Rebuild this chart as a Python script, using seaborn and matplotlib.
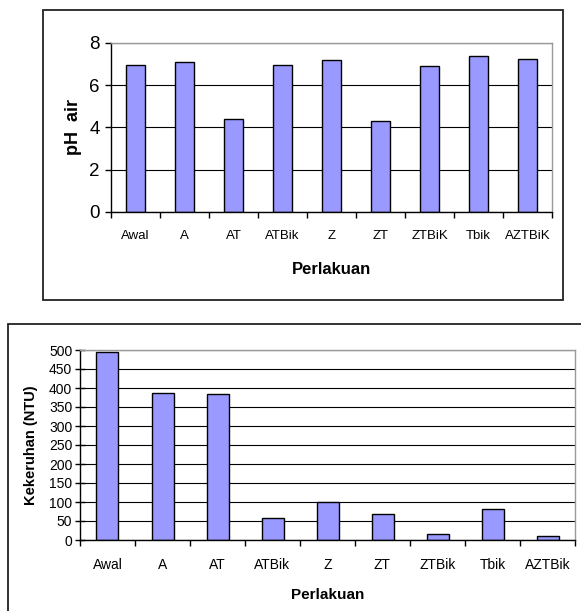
import numpy as np
import pandas as pd
import matplotlib
matplotlib.use("Agg")
import matplotlib.pyplot as plt
import seaborn as sns
from matplotlib.patches import Rectangle

# =========================
# DATA
# =========================
perlakuan_ph = ["Awal", "A", "AT", "ATBik", "Z", "ZT", "ZTBiK", "Tbik", "AZTBiK"]
ph_air = [6.94, 7.10, 4.41, 6.98, 7.20, 4.30, 6.93, 7.37, 7.23]

perlakuan_ntu = ["Awal", "A", "AT", "ATBik", "Z", "ZT", "ZTBik", "Tbik", "AZTBik"]
kekeruhan = [494, 386, 383, 58, 99, 68, 15, 81, 10]

# =========================
# STYLE
# =========================
sns.set_style("white")
plt.rcParams["font.family"] = ["Liberation Sans", "DejaVu Sans"]
plt.rcParams["text.color"] = "black"
plt.rcParams["axes.labelcolor"] = "black"
plt.rcParams["xtick.color"] = "black"
plt.rcParams["ytick.color"] = "black"

W, H = 581, 611
fig = plt.figure(figsize=(W / 100, H / 100), dpi=100)


def px_axes(left, top, right, bottom):
    # pixel box -> figure fraction
    return [left / W, 1 - bottom / H, (right - left) / W, (bottom - top) / H]


def style_axes(ax, cats, ymax, ystep, ytick_dir, ytick_len, ypad, xfs, yfs):
    ax.set_xlim(-0.5, len(cats) - 0.5)
    ax.set_ylim(0, ymax)
    ax.set_yticks(np.arange(0, ymax + 1e-9, ystep))
    ax.set_axisbelow(True)
    ax.yaxis.grid(True, color="black", lw=0.8)
    ax.xaxis.grid(False)
    for s in ["left", "bottom"]:
        ax.spines[s].set_color("black")
        ax.spines[s].set_linewidth(1.0)
    for s in ["top", "right"]:
        ax.spines[s].set_color("#9a9a9a")
        ax.spines[s].set_linewidth(1.0)
    ax.set_xticks(np.arange(-0.5, len(cats), 1), minor=True)
    ax.tick_params(axis="x", which="major", length=0, pad=13, labelsize=xfs, bottom=True)
    ax.tick_params(axis="x", which="minor", length=4, direction="out", width=1,
                   color="black", bottom=True)
    ax.tick_params(axis="y", which="major", length=ytick_len, direction=ytick_dir,
                   width=1, color="black", pad=ypad, labelsize=yfs, left=True)


# =========================
# CHART 1 - pH air
# =========================
fig.add_artist(Rectangle((43 / W, 1 - 300 / H), 520 / W, 290 / H, transform=fig.transFigure,
                         fill=False, edgecolor="#222222", lw=1.3))
ax1 = fig.add_axes(px_axes(111, 43, 552, 212))
df1 = pd.DataFrame({"Perlakuan": perlakuan_ph, "pH": ph_air})
sns.barplot(data=df1, x="Perlakuan", y="pH", ax=ax1, color="#9999FF",
            edgecolor="black", linewidth=1, width=0.4, saturation=1)
style_axes(ax1, perlakuan_ph, 8, 2, "out", 4, 4, 9.5, 13.5)
ax1.set_ylabel("pH  air", fontsize=13, fontweight="bold")
ax1.yaxis.set_label_coords(-0.086, 0.5)
ax1.yaxis.label.set_va("center")
ax1.set_xlabel("Perlakuan", fontsize=12, fontweight="bold")
ax1.xaxis.set_label_coords(0.5, (212 - 270) / 169)
ax1.xaxis.label.set_va("center")

# =========================
# CHART 2 - Kekeruhan
# =========================
fig.add_artist(Rectangle((8 / W, -0.05), 1.0, 0.05 + (H - 324) / H, transform=fig.transFigure,
                         fill=False, edgecolor="#222222", lw=1.3))
ax2 = fig.add_axes(px_axes(80, 350, 575, 540))
df2 = pd.DataFrame({"Perlakuan": perlakuan_ntu, "NTU": kekeruhan})
sns.barplot(data=df2, x="Perlakuan", y="NTU", ax=ax2, color="#9999FF",
            edgecolor="black", linewidth=1, width=0.4, saturation=1)
style_axes(ax2, perlakuan_ntu, 500, 50, "inout", 7, 2, 10, 10)
ax2.set_ylabel("Kekeruhan (NTU)", fontsize=10.5, fontweight="bold")
ax2.yaxis.set_label_coords((31 - 80) / 495, 0.5)
ax2.yaxis.label.set_va("center")
ax2.set_xlabel("Perlakuan", fontsize=11, fontweight="bold")
ax2.xaxis.set_label_coords(0.5, (540 - 595) / 190)
ax2.xaxis.label.set_va("center")

plt.savefig("out.png", dpi=100)
plt.close()
